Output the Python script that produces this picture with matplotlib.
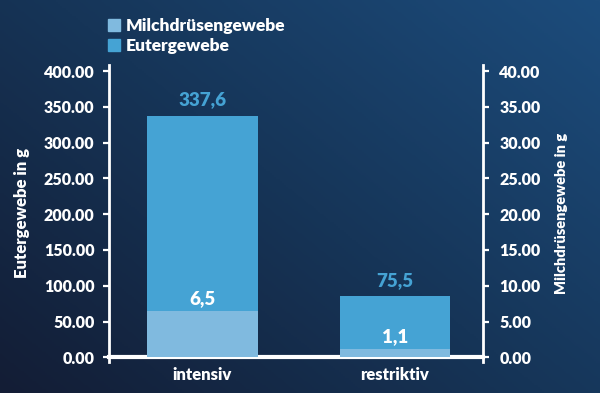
import numpy as np
import matplotlib
matplotlib.use("Agg")
import matplotlib.pyplot as plt
from matplotlib.patches import Patch
from matplotlib.colors import LinearSegmentedColormap

categories = ["intensiv", "restriktiv"]
euter_values = [337.6, 85.0]          # Eutergewebe (left axis, g)
euter_labels = ["337,6", "75,5"]
milch_values = [6.5, 1.1]             # Milchdrüsengewebe (right axis, g)
milch_labels = ["6,5", "1,1"]
left_ticks = [0, 50, 100, 150, 200, 250, 300, 350, 400]
right_ticks = [0, 5, 10, 15, 20, 25, 30, 35, 40]

DARK = "#45a3d4"
LIGHT = "#80badf"
WHITE = "white"
FONT = ["Lato", "DejaVu Sans"]
WEIGHT = "heavy"
plt.rcParams['font.family'] = FONT
plt.rcParams['font.weight'] = WEIGHT

W, H = 600, 393
fig = plt.figure(figsize=(W / 100, H / 100), dpi=100)

# gradient background
bg = fig.add_axes([0, 0, 1, 1], zorder=-10)
yy, xx = np.mgrid[0:1:200j, 0:1:300j]
t = 0.55 * xx + 0.45 * yy
cmap = LinearSegmentedColormap.from_list("bg", ["#131d35", "#163558", "#1c4c7c"])
bg.imshow(t, cmap=cmap, origin="lower", aspect="auto", extent=[0, 1, 0, 1])
bg.axis("off")

# main axes: pixel layout
x0, x1 = 109, 483
ytop, ybase = 65, 357.3
unit = (ybase - 71) / 400.0
ymin_data = -6
ymax_data = (ybase - ytop) / unit
bottom_px = ybase + (-ymin_data) * unit
ax = fig.add_axes([x0 / W, 1 - bottom_px / H, (x1 - x0) / W, (bottom_px - ytop) / H])
ax.set_facecolor("none")
ax.set_ylim(ymin_data, ymax_data)
ax.set_xlim(-0.482, 1.456)

x = np.arange(len(categories))
bw = 0.575
ax.bar(x, euter_values, width=bw, color=DARK, zorder=2)

ax2 = ax.twinx()
ax2.set_ylim(ymin_data / 10, ymax_data / 10)
ax2.bar(x, milch_values, width=bw, color=LIGHT, zorder=2)

for a in (ax, ax2):
    for s in a.spines.values():
        s.set_color(WHITE)
        s.set_linewidth(2)
    a.spines["top"].set_visible(False)
    a.spines["bottom"].set_visible(False)
ax.spines["right"].set_visible(False)
ax2.spines["left"].set_visible(False)

ax.axhline(0, color=WHITE, lw=3, zorder=5, clip_on=False)

ax.set_yticks(left_ticks)
ax.set_yticklabels([f"{v:.2f}" for v in left_ticks])
ax2.set_yticks(right_ticks)
ax2.set_yticklabels([f"{v:.2f}" for v in right_ticks])
ax.tick_params(axis="y", colors=WHITE, length=4.3, width=1.6, labelsize=11.5, pad=6)
ax2.tick_params(axis="y", colors=WHITE, length=4.3, width=1.6, labelsize=11.5, pad=7.5)
ax.set_xticks(x)
ax.set_xticklabels(categories)
ax.tick_params(axis="x", colors=WHITE, length=0, labelsize=12, pad=4)
for lab in ax.get_xticklabels() + ax.get_yticklabels() + ax2.get_yticklabels():
    lab.set_fontweight(WEIGHT)
    lab.set_color(WHITE)

ax.set_ylabel("Eutergewebe in g", color=WHITE, fontsize=12, fontweight=WEIGHT, labelpad=10)
ax2.set_ylabel("Milchdrüsengewebe in g", color=WHITE, fontsize=10.5, fontweight=WEIGHT, labelpad=10)

# value labels
for xi, v, lab in zip(x, euter_values, euter_labels):
    ax.annotate(lab, (xi, v), xytext=(0, 5.5), textcoords="offset points",
                ha="center", va="bottom", color=DARK, fontsize=13.5, fontweight=WEIGHT, zorder=6)
for xi, v, lab in zip(x, milch_values, milch_labels):
    ax2.annotate(lab, (xi, v), xytext=(0, 3), textcoords="offset points",
                 ha="center", va="bottom", color=WHITE, fontsize=13.5, fontweight=WEIGHT, zorder=6)

handles = [Patch(color=LIGHT, label="Milchdrüsengewebe"), Patch(color=DARK, label="Eutergewebe")]
fig.legend(handles=handles, loc="upper left", bbox_to_anchor=(108 / W, 1 - 18 / H),
           frameon=False, handlelength=0.7, handleheight=0.7, handletextpad=0.3,
           labelspacing=0.25, borderpad=0, borderaxespad=0,
           prop={"family": FONT, "weight": WEIGHT, "size": 12.5}, labelcolor=WHITE)

fig.savefig("out.png", dpi=100)
